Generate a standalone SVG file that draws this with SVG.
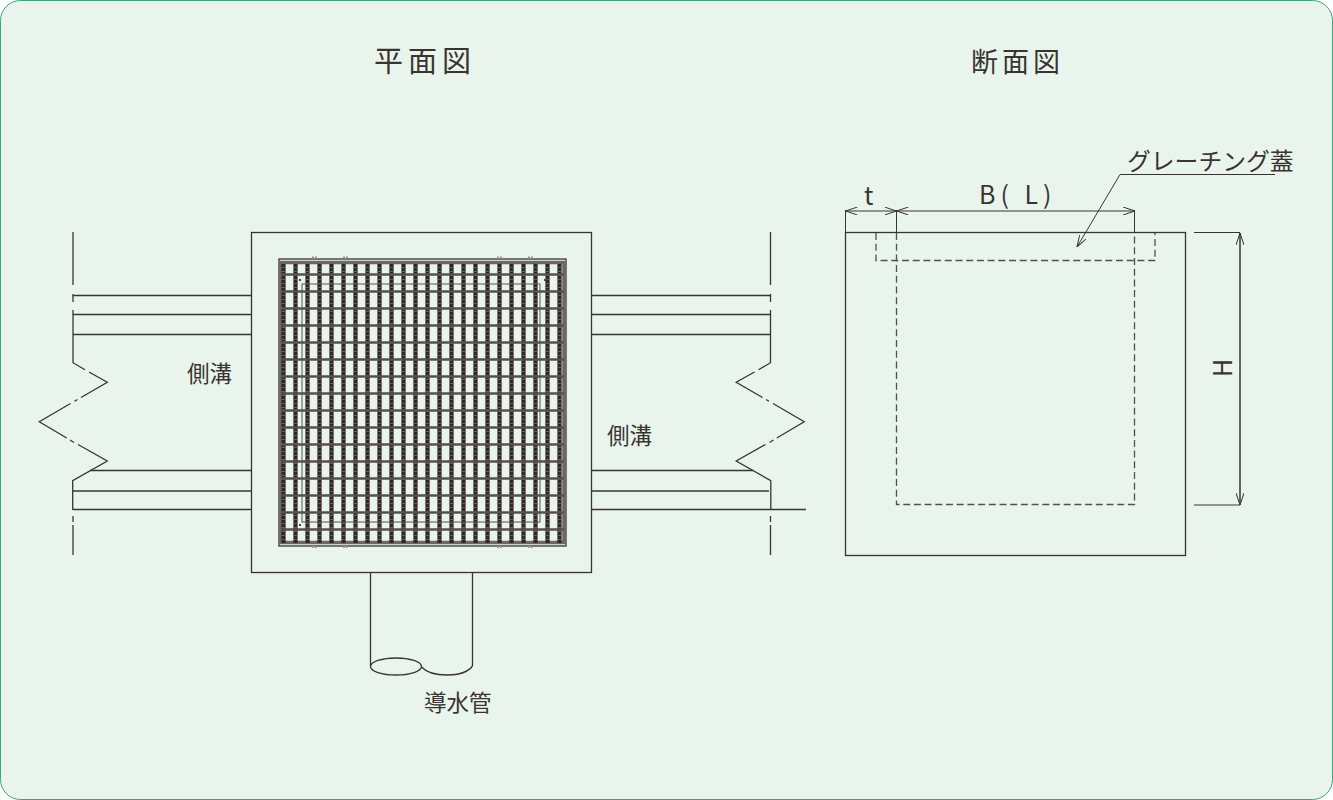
<svg xmlns="http://www.w3.org/2000/svg" width="1333" height="800" viewBox="0 0 1333 800">
<defs>
<style>
.l{fill:none;stroke:#3a3431;stroke-width:1.3}
.d{fill:none;stroke:#55504c;stroke-width:1.3;stroke-dasharray:7 3.700}
.t{font-family:"Noto Sans CJK JP","Noto Sans",sans-serif;fill:#3a3431}
.a{fill:none;stroke:#3a3431;stroke-width:1}
</style>
<marker id="ah" viewBox="0 0 12 8" refX="12" refY="4" markerWidth="12" markerHeight="8" markerUnits="userSpaceOnUse" orient="auto-start-reverse"><path d="M0 0L12 4L0 8" fill="none" stroke="#3a3431" stroke-width="1"/></marker>
</defs>
<rect id="frame" x="0.5" y="0.5" width="1332" height="799" rx="20" fill="#e9f4ec" stroke="#3ba57c" stroke-width="1"/>
<text class="t" x="374" y="72" font-size="29" letter-spacing="5">平面図</text>
<text class="t" x="971" y="72" font-size="27" letter-spacing="4">断面図</text>
<g id="plan">
<rect class="l" x="251.500" y="232.500" width="340" height="340"/>
<path class="l" d="M73 232V285M73 294V302M73 310V362.700L85 369.700M89 372L107.300 382.300L81 397.500M77.500 399.500L74.500 401.300M70.500 403.500L39.300 421.700L66.700 438M70 440L74 442.500M78 444.500L107.300 461L72.700 480.700V510M73 516V522M73 525V555"/>
<path class="l" d="M73 295.500H251M73 314.500H251M73 334.500H251M90 470.500H251M73 491H251M73 509.500H251"/>
<path class="l" d="M770.500 232V285M770.500 294V302M770.500 310V362.700L758.500 369.700M754.500 372L736.200 382.300L762.500 397.500M766 399.500L769 401.300M773 403.500L804.200 421.700L776.800 438M773.500 440L769.500 442.500M765.500 444.500L736.200 461L770.800 480.700V510M770.500 516V522M770.500 525V555"/>
<path class="l" d="M592 295.500H770M592 314.500H770M592 334.500H770M592 470.500H753M592 491H769M592 509.500H806"/>
<path class="l" d="M370.500 573V666M472.500 573V666"/>
<ellipse class="l" cx="396" cy="666.500" rx="25.500" ry="8.500"/>
<path class="l" d="M421.500 667C427 673 436 675 447 675C458 675 468 672 472.500 666"/>
</g>
<g id="grating">
<rect x="279" y="259" width="287" height="287" fill="none" stroke="#3a3431" stroke-width="1.300"/>
<rect x="281" y="262.500" width="283" height="280" fill="none" stroke="#6e6863" stroke-width="3.500"/>
<g fill="none" stroke-width="4.200">
<path stroke="#2f2725" d="M283.500 263V543M295.500 263V543M307.500 263V543M319.500 263V543M331.500 263V543M343.500 263V543M355.500 263V543M367.500 263V543M379.500 263V543M391.500 263V543M403.500 263V543M415.500 263V543M427.500 263V543M439.500 263V543M451.500 263V543M463.500 263V543M475.500 263V543M487.500 263V543M499.500 263V543M511.500 263V543M523.500 263V543M535.500 263V543M547.500 263V543M559.500 263V543"/>
<path stroke="#6a625e" stroke-dasharray="1 3" d="M283.500 263V543M295.500 263V543M307.500 263V543M319.500 263V543M331.500 263V543M343.500 263V543M355.500 263V543M367.500 263V543M379.500 263V543M391.500 263V543M403.500 263V543M415.500 263V543M427.500 263V543M439.500 263V543M451.500 263V543M463.500 263V543M475.500 263V543M487.500 263V543M499.500 263V543M511.500 263V543M523.500 263V543M535.500 263V543M547.500 263V543M559.500 263V543"/>
</g>
<path fill="none" stroke="#57504c" stroke-width="2.500" transform="translate(0 -0.500)" d="M281 275L564 275M281 292L564 292M281 309L564 309M281 326L564 326M281 343L564 343M281 360L564 360M281 377L564 377M281 394L564 394M281 411L564 411M281 428L564 428M281 445L564 445M281 462L564 462M281 479L564 479M281 496L564 496M281 513L564 513M281 530L564 530"/>
<rect x="302" y="284" width="238" height="238" fill="none" stroke="#57524e" stroke-width="1"/>
<path stroke="#9a9692" stroke-width="2" stroke-dasharray="2 1" d="M312 257.500H317M343 257.500H348M497 257.500H502M528 257.500H533M312 547H317M343 547H348M497 547H502M528 547H533"/>
<path stroke="#4a4340" stroke-width="2" d="M299 280H301M299 525H301M544 280H546"/>
</g>
<g id="section">
<rect class="l" x="845.500" y="232.500" width="340" height="323"/>
<path class="d" d="M876 233V260.500H1155V233"/>
<path class="d" d="M896.500 233V504.500H1134.500V233"/>
<path class="a" d="M845.500 232V210M896.500 233V210M1134.500 233V210"/>
<path class="a" d="M1194 232.500H1240M1194 505H1240"/>
<path class="a" marker-start="url(#ah)" marker-end="url(#ah)" d="M845.500 211H896.500"/>
<path class="a" marker-start="url(#ah)" marker-end="url(#ah)" d="M896.500 211H1135"/>
<path class="a" style="stroke-width:1.500" marker-start="url(#ah)" marker-end="url(#ah)" d="M1240 233V505"/>
<path class="a" marker-end="url(#ah)" d="M1275 174.500H1120L1077 247"/>
</g>
<text class="t" x="187" y="382" font-size="22.500">側溝</text>
<text class="t" x="607" y="444" font-size="22.500">側溝</text>
<text class="t" x="424" y="711" font-size="22.500">導水管</text>
<text class="t" x="1127" y="170" font-size="23.800">グレーチング蓋</text>
<text class="t" x="864" y="205" font-size="25">t</text>
<text class="t" x="979" y="204" font-size="25" letter-spacing="5" xml:space="preserve">B( L)</text>
<text class="t" font-size="25" transform="translate(1232 368) rotate(-90)" text-anchor="middle">H</text>
</svg>
